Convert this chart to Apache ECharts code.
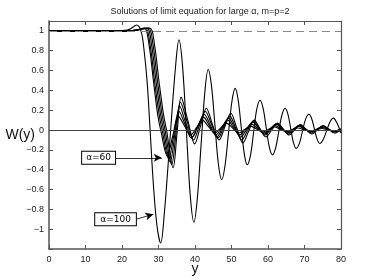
<!DOCTYPE html>
<html><head><meta charset="utf-8">
<script src="https://cdn.jsdelivr.net/npm/echarts@6/dist/echarts.min.js"></script>
<style>html,body{margin:0;padding:0;background:#fff}#c{width:377px;height:280px}</style>
</head><body><div id="c"></div>
<script>
const xTicks = [0,10,20,30,40,50,60,70,80];
const yTicks = [-1,-0.8,-0.6,-0.4,-0.2,0,0.2,0.4,0.6,0.8,1];

const a100x = [0,18,21,22.5,24,25.2,26,26.9,27.7,28.6,29.6,30.6,31.6,33.1,34.6,35.6,36.6,37.65,38.7,39.7,40.6,41.65,42.7,43.6,44.5,45.45,46.4,47.3,48.2,49.15,50.1,51,51.8,52.65,53.5,54.3,55.2,56.05,56.9,57.8,58.65,59.5,60.35,61.2,62.1,62.95,63.8,64.7,65.45,66.2,66.95,67.7,68.6,69.45,70.3,71.2,71.95,72.7,73.45,74.2,75.1,76.05,77,77.9,78.9,80];
const a100y = [1,1,1.005,1.025,1.06,1.0,0.82,0.48,0.0,-0.55,-0.97,-1.14,-0.84,-0.115,0.61,0.91,0.64,-0.01,-0.66,-0.93,-0.705,-0.16,0.385,0.61,0.45,0.055,-0.34,-0.5,-0.365,-0.04,0.285,0.42,0.31,0.035,-0.24,-0.35,-0.255,-0.025,0.205,0.30,0.22,0.025,-0.17,-0.25,-0.18,-0.015,0.15,0.22,0.16,0.02,-0.125,-0.185,-0.135,-0.01,0.11,0.16,0.117,0.012,-0.092,-0.135,-0.098,-0.008,0.083,0.12,0.07,-0.03];

const c1x = [0,20,23.5,26.1,27.4,28.6,29.8,30.6,32.4,33.9,35.4,37.1,38.8,40.4,42.0,43.7,45.4,47,48.6,50.3,52.0,53.6,55.2,56.85,58.5,60.1,61.7,63.35,65,66.6,68.2,69.85,71.5,73.1,74.7,76.35,78,80];
const c1y = [1,1,1.005,1.03,0.86,0.5,0.15,0,-0.26,-0.06,0.14,0.045,-0.05,0.025,0.10,0.035,-0.03,0.02,0.07,0.02,-0.03,0.005,0.04,0.01,-0.02,0.005,0.03,0.008,-0.015,0.002,0.02,0.005,-0.01,0.002,0.015,0.002,-0.01,0.0];

const c2x = [0,20,23.5,26.4,27.7,28.9,30.2,31.0,32.8,34.2,35.6,37.3,39.0,40.65,42.3,44.0,45.7,47.3,48.9,50.55,52.2,53.85,55.5,57.15,58.8,60.4,62,63.6,65.2,66.8,68.4,70,71.6,73.2,74.8,76.4,78,80];
const c2y = [1,1,1.005,1.03,0.86,0.5,0.15,0,-0.29,-0.05,0.19,0.055,-0.08,0.025,0.13,0.04,-0.05,0.025,0.10,0.025,-0.05,0.005,0.06,0.015,-0.03,0.008,0.045,0.012,-0.02,0.008,0.035,0.01,-0.015,0.005,0.025,0.007,-0.01,0.01];

const c3x = [0,20,23.5,26.8,28.1,29.3,30.6,31.4,33.2,34.5,35.8,37.55,39.3,40.9,42.5,44.25,46,47.6,49.2,50.85,52.5,54.15,55.8,57.4,59,60.6,62.2,63.8,65.4,66.95,68.5,70.1,71.7,73.3,74.9,76.45,78,80];
const c3y = [1,1,1.005,1.03,0.86,0.5,0.15,0,-0.32,-0.04,0.24,0.065,-0.07,0.045,0.16,0.045,-0.07,0.025,0.12,0.025,-0.07,0.005,0.08,0.02,-0.04,0.01,0.06,0.015,-0.03,0.008,0.045,0.012,-0.02,0.008,0.035,0.01,-0.015,0.01];

const c4x = [0,20,23.5,27.2,28.5,29.7,31.0,31.8,33.6,34.8,36,37.8,39.6,41.2,42.8,44.55,46.3,47.9,49.5,51.15,52.8,54.4,56,57.6,59.2,60.8,62.4,64,65.6,67.15,68.7,70.3,71.9,73.45,75,76.55,78.1,80];
const c4y = [1,1,1.005,1.03,0.86,0.5,0.15,0,-0.35,-0.035,0.28,0.09,-0.10,0.045,0.19,0.055,-0.08,0.03,0.14,0.02,-0.10,-0.005,0.09,0.02,-0.05,0.008,0.065,0.013,-0.04,0.005,0.05,0.01,-0.03,0.005,0.04,0.01,-0.02,0.0];

const c5x = [0,20,23.5,27.6,28.9,30.1,31.4,32.2,34,35.1,36.2,38.05,39.9,41.5,43.1,44.85,46.6,48.2,49.8,51.45,53.1,54.65,56.2,57.8,59.4,61,62.6,64.2,65.8,67.35,68.9,70.45,72,73.55,75.1,76.65,78.2,80];
const c5y = [1,1,1.005,1.03,0.86,0.5,0.15,0,-0.38,-0.025,0.33,0.095,-0.14,0.04,0.22,0.05,-0.10,0.035,0.17,0.02,-0.13,-0.015,0.10,0.015,-0.07,0,0.07,0.01,-0.05,0.003,0.055,0.008,-0.04,0.003,0.045,0.008,-0.03,0.0];

const curves = [
  {name:'c1', x:c1x, y:c1y},
  {name:'c2', x:c2x, y:c2y},
  {name:'c3', x:c3x, y:c3y},
  {name:'c4', x:c4x, y:c4y},
  {name:'c5', x:c5x, y:c5y},
  {name:'α=100', x:a100x, y:a100y}
];

const FONT = 'Liberation Sans';
const frameColor = '#555';
const chart = echarts.init(document.getElementById('c'), null, {renderer:'canvas'});

function yfmt(v){
  if (v < -1.05) return '';
  const s = String(+v.toFixed(1));
  return s.replace('-', '\u2212');
}

const boxLabel = {
  show: true, position: 'start', distance: 0,
  color: '#000', fontSize: 9, fontFamily: 'DejaVu Sans',
  backgroundColor: '#fff', borderColor: '#000', borderWidth: 1,
  padding: [2, 4, 1, 4]
};

const series = [{
  type: 'line', data: [], z: 1, silent: true,
  markLine: {
    silent: true, symbol: 'none', animation: false,
    label: {show: false},
    data: [
      [{coord:[0,1], lineStyle:{type:[8,5], color:'#888', width:1.2}}, {coord:[80,1]}],
      [{coord:[0,0], lineStyle:{type:'solid', color:'#444', width:1}}, {coord:[80,0]}]
    ]
  }
}];

curves.forEach((c, idx) => {
  const s = {
    type: 'line', name: c.name, z: 2,
    data: c.x.map((x, i) => [x, c.y[i]]),
    smooth: 0.35, showSymbol: false, symbol: 'none',
    lineStyle: {color: '#000', width: 1.1},
    animation: false
  };
  if (idx === curves.length - 1) {
    s.markLine = {
      silent: true, animation: false,
      symbol: ['none', 'arrow'], symbolSize: [6, 8],
      lineStyle: {color: '#000', width: 0.8, type: 'solid'},
      data: [
        [{coord:[18.1,-0.28], label: Object.assign({}, boxLabel, {formatter:'α=60'})}, {coord:[30.9,-0.28]}],
        [{coord:[23.8,-0.9], label: Object.assign({}, boxLabel, {formatter:'α=100', padding:[2,5,1,5]})}, {coord:[28.6,-0.85]}]
      ]
    };
  }
  series.push(s);
});

const axisLbl = {color:'#222', fontSize: 9, fontFamily: FONT};
chart.setOption({
  animation: false,
  backgroundColor: '#fff',
  title: {
    text: 'Solutions of limit equation for large α, m=p=2',
    left: 195, top: 2, textAlign: 'center',
    textStyle: {fontSize: 9, fontWeight: 'normal', color: '#222', fontFamily: FONT}
  },
  grid: {left: 49, right: 36, top: 21, bottom: 31, containLabel: false, outerBoundsMode: 'none'},
  xAxis: [{
    type: 'value', min: 0, max: 80, interval: 10, position: 'bottom',
    name: 'y', nameLocation: 'middle', nameGap: 13, nameMoveOverlap: false,
    nameTextStyle: {fontSize: 14, color: '#111', fontFamily: FONT, verticalAlign: 'top'},
    axisLine: {show: true, onZero: false, lineStyle: {color: frameColor, width: 1.5}},
    axisTick: {show: true, inside: true, length: 4, lineStyle: {color: frameColor}},
    axisLabel: Object.assign({margin: 6, formatter: v => String(v)}, axisLbl),
    splitLine: {show: false}
  }, {
    type: 'value', min: 0, max: 80, interval: 10, position: 'top',
    axisLine: {show: true, onZero: false, lineStyle: {color: frameColor, width: 1.2}},
    axisTick: {show: true, inside: true, length: 4, lineStyle: {color: frameColor}},
    axisLabel: {show: false}, splitLine: {show: false}
  }],
  yAxis: [{
    type: 'value', min: -1.2, max: 1.1, interval: 0.2, position: 'left',
    name: 'W(y)', nameLocation: 'middle', nameGap: 14, nameRotate: 0, nameMoveOverlap: false,
    nameTextStyle: {fontSize: 14, color: '#111', fontFamily: FONT, align: 'right'},
    axisLine: {show: true, onZero: false, lineStyle: {color: frameColor, width: 1.5}},
    axisTick: {show: true, inside: true, length: 4, lineStyle: {color: frameColor}},
    axisLabel: Object.assign({margin: 5, formatter: yfmt, showMaxLabel: false}, axisLbl),
    splitLine: {show: false}
  }, {
    type: 'value', min: -1.2, max: 1.1, interval: 0.2, position: 'right',
    axisLine: {show: true, onZero: false, lineStyle: {color: frameColor, width: 1.2}},
    axisTick: {show: true, inside: true, length: 4, lineStyle: {color: frameColor}},
    axisLabel: {show: false}, splitLine: {show: false}
  }],
  series: series
});
</script></body></html>
